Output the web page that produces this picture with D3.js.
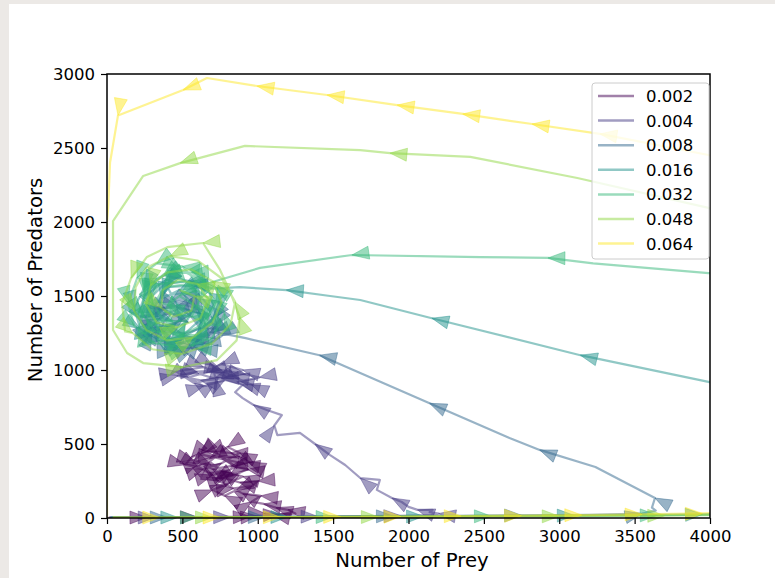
<!DOCTYPE html>
<html>
<head>
<meta charset="utf-8">
<script src="https://cdn.jsdelivr.net/npm/d3@7"></script>
<style>
body { margin: 0; background: #ece9e6; }
svg { display: block; }
text { font-family: "DejaVu Sans", sans-serif; }
</style>
</head>
<body>
<script>
var width = 775,
    height = 578;

var rates = ["0.002", "0.004", "0.008", "0.016", "0.032", "0.048", "0.064"];
var xTicks = [0, 500, 1000, 1500, 2000, 2500, 3000, 3500, 4000];
var yTicks = [0, 500, 1000, 1500, 2000, 2500, 3000];

// [prey, predators, arrow?]
var traj002 = [[10,2],[130,3],[265,4,1],[420,5],[600,6,1],[800,8],[950,10,1],[1000,12,1],[1100,20,1],[1050,30,1],[1150,25,1],
  [1250,30],[1200,55,1],[1120,70,1],[1040,95,1],[960,110,1],[1020,150,1],[900,165,1],[840,200,1],[960,215,1],[1000,250,1],
  [880,240,1],[780,270,1],[870,300,1],[930,330,1],[820,350,1],[700,330,1],[620,380,1],[720,420,1],[860,410,1],[940,380,1],
  [820,440,1],[660,450,1],[560,410,1],[520,360,1],[640,330,1],[760,370,1],[880,440,1],[800,480,1],[680,400,1],[600,350,1],
  [700,290,1],[800,320,1],[900,370,1],[760,400,1],[620,430,1],[580,390,1],[690,360,1],[820,300,1],[740,250,1],[860,190,1],
  [780,150,1],[700,190,1],[800,230,1],[900,280,1],[760,320,1],[680,380,1],[740,430,1],[850,350,1],[720,260,1]];

var traj004 = [[15,2],[150,3],[320,4,1],[550,5],[820,6,1],[1100,8],[1400,10,1],[1700,12],[1950,15,1],[2150,20],
  [2200,30,1],[2140,40],[2160,55],[2060,55,1],[2000,75],[1955,108],[1890,135,1],[1790,190],[1810,257],[1680,270,1],
  [1580,358],[1480,425],[1380,500,1],[1280,575],[1130,560],[1110,625,1],[1160,695],[1060,730],[970,765,1],[900,810],
  [850,850],[900,900,1],[760,940,1],[620,930,1],[470,960,1],[600,990,1],[760,1000,1],[920,970,1],[1010,950,1],[860,920,1],
  [720,950,1],[580,910,1],[460,990,1],[640,1020,1],[800,950,1],[960,900,1],[830,960,1],[680,990,1],[540,950,1],[640,890,1],
  [780,930,1],[900,1000,1],[760,1040,1],[610,975,1],[720,940,1],[700,1030,1],[780,980,1],[880,940,1]];

var traj008 = [[20,2],[170,3],[400,4,1],[700,5],[1050,7,1],[1450,9],[1900,12,1],[2300,15],[2750,18,1],[3200,22],
  [3550,30,1],[3640,50],[3615,70],[3635,135,1],[3240,345],[2870,460,1],[2670,540],[2140,775,1],[1790,930],
  [1410,1100,1],[920,1215],[820,1236],[700,1250,1],[560,1200,1],[400,1180,1],[300,1250,1],[350,1350,1],[480,1420,1],
  [620,1380,1],[720,1300,1],[640,1180,1],[480,1150,1],[330,1200,1],[280,1320,1],[380,1420,1],[550,1450,1],[700,1350,1],
  [600,1230,1],[450,1200,1],[350,1280,1],[420,1380,1],[560,1360,1],[620,1280,1],[500,1240,1],[420,1300,1],[500,1340,1],
  [600,1420,1],[680,1250,1],[560,1170,1],[380,1230,1],[320,1380,1],[460,1460,1],[640,1400,1],[760,1230,1],[620,1140,1],
  [430,1160,1],[300,1290,1],[400,1400,1],[540,1320,1]];

var traj016 = [[25,2],[200,3],[470,4,1],[800,5],[1200,7,1],[1650,9],[2100,11,1],[2600,14],[3100,17,1],[3600,21],
  [3950,25,1],[4100,30],[4100,890],[3990,920],[3140,1100,1],[2155,1350,1],[1680,1473],[1480,1500],[1190,1540,1],
  [880,1560],[700,1550],[550,1600,1],[380,1640,1],[250,1560,1],[180,1420,1],[220,1280,1],[350,1200,1],[500,1180,1],
  [650,1250,1],[720,1380,1],[680,1520,1],[540,1600,1],[380,1580,1],[280,1480,1],[260,1350,1],[360,1260,1],[520,1250,1],
  [620,1340,1],[600,1480,1],[480,1540,1],[360,1480,1],[340,1360,1],[460,1320,1],[540,1400,1],[460,1450,1],
  [380,1600,1],[250,1500,1],[200,1360,1],[300,1230,1],[470,1200,1],[620,1290,1],[660,1450,1],[560,1570,1],
  [400,1560,1],[310,1420,1],[380,1300,1],[520,1310,1],[580,1430,1],[500,1520,1],[370,1500,1],[330,1380,1],[430,1330,1]];

var traj032 = [[30,2],[250,3],[600,4,1],[1000,5],[1500,7,1],[2000,9],[2550,12,1],[3100,15],[3650,19,1],[4100,24],
  [4100,1650],[3990,1655],[3225,1720],[2925,1757,1],[2475,1763],[1625,1777,1],[1015,1690],[750,1610],[620,1570],
  [500,1700,1],[330,1720,1],[200,1620,1],[140,1450,1],[180,1300,1],[320,1180,1],[520,1150,1],[700,1220,1],[780,1380,1],
  [720,1560,1],[560,1660,1],[380,1650,1],[250,1540,1],[230,1380,1],[320,1260,1],[500,1230,1],[650,1320,1],[680,1480,1],
  [540,1580,1],[380,1560,1],[310,1440,1],[380,1330,1],[520,1330,1],[580,1440,1],[480,1500,1],[400,1440,1],
  [300,1480,1],[330,1620,1],[480,1680,1],[640,1600,1],[720,1450,1],[640,1300,1],[480,1240,1],[330,1300,1],
  [260,1450,1],[350,1580,1],[520,1600,1],[620,1480,1],[560,1360,1],[420,1380,1],[430,1500,1]];

var traj048 = [[35,2],[300,3],[700,4,1],[1200,5],[1800,7,1],[2400,9],[3000,12,1],[3700,16,1],[4100,20],
  [4100,2060],[3990,2095],[3120,2297],[2410,2440],[1877,2466,1],[1680,2486],[915,2514],[485,2398,1],[240,2311],
  [40,2006],[40,1676],[40,1270],[133,1115],[240,1047],[505,1020,1],[730,1067],[860,1200],[880,1358,1],[820,1520],
  [750,1676],[637,1858,1],[400,1830],[265,1764],[160,1620,1],[100,1450],[120,1260],[170,1250,1],[300,1140],
  [500,1110,1],[700,1180],[820,1310],[850,1460,1],[760,1620],[600,1740],[420,1770,1],[260,1690],[190,1560],
  [180,1400,1],[260,1270],[400,1200],[570,1220,1],[700,1320],[760,1460],[700,1600,1],[560,1680],[400,1660],
  [290,1570,1],[260,1440],[330,1320],[470,1290,1],[620,1350],[670,1480],[600,1580,1],[470,1610],[370,1540],
  [360,1420,1],[440,1360],[560,1400],[580,1500,1],[480,1540]];

var traj064 = [[40,2],[350,3,1],[750,4,1],[1150,6,1],[1550,8,1],[1950,10,1],[2350,13,1],[2750,16,1],[3150,20,1],
  [3550,25,1],[3950,31,1],[4100,35],[4100,2430],[3990,2453],[3270,2595,1],[2820,2662,1],[2360,2730,1],
  [1925,2790,1],[1460,2858,1],[995,2919,1],[663,2973],[505,2892,1],[73,2720,1],[20,2400],[8,2100],[0,2000],[0,0]];

var series = [traj002, traj004, traj008, traj016, traj032, traj048, traj064];

var svg = d3.select("body").append("svg")
    .attr("width", width)
    .attr("height", height);

svg.append("rect")
    .attr("x", 9).attr("y", 4)
    .attr("width", width - 9).attr("height", height - 4)
    .attr("fill", "#fff");

var x = d3.scaleLinear().domain([0, 4000]).range([107, 710]);
var y = d3.scaleLinear().domain([0, 3000]).range([518, 74]);

var color = function(i) { return d3.interpolateViridis(i / 6); };

svg.append("clipPath").attr("id", "clip")
  .append("rect")
    .attr("x", 107).attr("y", 74)
    .attr("width", 603).attr("height", 444);

var plot = svg.append("g");

var line = d3.line()
    .x(function(d) { return x(d[0]); })
    .y(function(d) { return y(d[1]); });

series.forEach(function(pts, i) {
  var g = plot.append("g");
  g.append("path")
      .attr("clip-path", "url(#clip)")
      .attr("d", line(pts))
      .attr("fill", "none")
      .attr("stroke", color(i))
      .attr("stroke-opacity", 0.5)
      .attr("stroke-width", 2.2)
      .attr("stroke-linejoin", "round");

  // arrowheads: tip on the point, pointing to the next point, not clipped
  var arrows = [];
  pts.forEach(function(d, j) {
    if (!d[2] || d[0] > 4000) return;
    var a = pts[j + 1] || d, b = pts[j + 1] ? d : pts[j - 1];
    var ang = Math.atan2(y(a[1]) - y(b[1]), x(a[0]) - x(b[0])) * 180 / Math.PI;
    arrows.push({x: x(d[0]), y: y(d[1]), ang: ang});
  });

  g.selectAll(".arrow")
      .data(arrows)
    .enter().append("path")
      .attr("class", "arrow")
      .attr("d", "M0,0L-17,-6.5L-17,6.5Z")
      .attr("transform", function(d) {
        return "translate(" + d.x + "," + d.y + ")rotate(" + d.ang + ")"; })
      .attr("fill", color(i))
      .attr("fill-opacity", 0.5)
      .attr("stroke", color(i))
      .attr("stroke-opacity", 0.5)
      .attr("stroke-width", 0.8);
});

// axes
var xAxis = svg.append("g")
    .attr("transform", "translate(0,518)")
    .call(d3.axisBottom(x).tickValues(xTicks).tickFormat(d3.format("d")).tickSize(6).tickPadding(6));
var yAxis = svg.append("g")
    .attr("transform", "translate(107,0)")
    .call(d3.axisLeft(y).tickValues(yTicks).tickFormat(d3.format("d")).tickSize(6).tickPadding(6));

[xAxis, yAxis].forEach(function(a) {
  a.attr("font-family", "DejaVu Sans").attr("font-size", 16.5);
  a.select(".domain").remove();
  a.selectAll("line").attr("stroke", "#000").attr("stroke-width", 1.2);
  a.selectAll("text").attr("fill", "#000");
});

svg.append("rect")
    .attr("x", 107).attr("y", 74)
    .attr("width", 603).attr("height", 444)
    .attr("fill", "none")
    .attr("stroke", "#000")
    .attr("stroke-width", 1.5);

svg.append("text")
    .attr("x", 412).attr("y", 567)
    .attr("text-anchor", "middle")
    .attr("font-size", 19.7)
    .text("Number of Prey");

svg.append("text")
    .attr("transform", "translate(42,280)rotate(-90)")
    .attr("text-anchor", "middle")
    .attr("font-size", 19.7)
    .text("Number of Predators");

// legend
var legend = svg.append("g");
legend.append("rect")
    .attr("x", 592).attr("y", 83)
    .attr("width", 117).attr("height", 176)
    .attr("rx", 3)
    .attr("fill", "#fff").attr("fill-opacity", 0.8)
    .attr("stroke", "#ccc");

var item = legend.selectAll(".item")
    .data(rates)
  .enter().append("g")
    .attr("class", "item")
    .attr("transform", function(d, i) { return "translate(0," + (96 + i * 24.6) + ")"; });

item.append("line")
    .attr("x1", 598).attr("x2", 634)
    .attr("stroke", function(d, i) { return color(i); })
    .attr("stroke-opacity", 0.5)
    .attr("stroke-width", 2.5);

item.append("text")
    .attr("x", 646)
    .attr("dy", "0.36em")
    .attr("font-size", 16.5)
    .text(function(d) { return d; });
</script>
</body>
</html>
